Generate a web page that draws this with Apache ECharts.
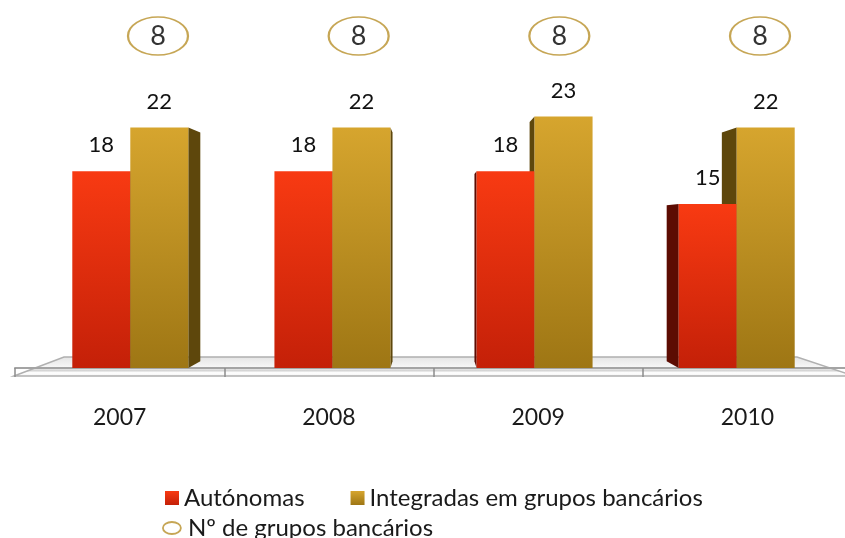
<!DOCTYPE html>
<html>
<head>
<meta charset="utf-8">
<script src="https://cdn.jsdelivr.net/npm/echarts@6/dist/echarts.min.js"></script>
<style>
  html, body { margin: 0; padding: 0; background: #fff; }
  #chart { width: 845px; height: 538px; }
</style>
</head>
<body>
<div id="chart"></div>
<script>
// dados do gráfico
var years = ['2007', '2008', '2009', '2010'];
var autonomas = [18, 18, 18, 15];
var integradas = [22, 22, 23, 22];
var grupos = [8, 8, 8, 8];

var FONT = 'Lato';
var BAR_W = 58;       // largura da face frontal
var FRONT = 0.966;    // recuo das faces frontais em direção ao centro
var DEPTH = 0.951;    // profundidade das barras (perspectiva)
var EYE_Y = 230;      // linha do horizonte
var ELLIPSE = 'path://M0,20a30,20 0 1,0 60,0a30,20 0 1,0 -60,0z';

var redFront = new echarts.graphic.LinearGradient(0, 0, 0, 1, [
    { offset: 0, color: '#f83a12' },
    { offset: 1, color: '#c42008' }
]);
var goldFront = new echarts.graphic.LinearGradient(0, 0, 0, 1, [
    { offset: 0, color: '#d6a52e' },
    { offset: 1, color: '#9e7614' }
]);
var redSide = '#5c0c02';
var goldSide = '#5e470c';

// barra 3D: face lateral + face frontal + rótulo
function makeRender(side, front, sideColor) {
    return function (params, api) {
        var idx = api.value(0);
        var val = api.value(1);
        var first = api.coord([0, 0]);
        var last = api.coord([years.length - 1, 0]);
        var vpx = (first[0] + last[0]) / 2;
        var base = api.coord([idx, 0]);
        var top = api.coord([idx, val]);
        var c = vpx + (base[0] - vpx) * FRONT;
        var x0 = side === 'left' ? c - BAR_W : c;
        var x1 = x0 + BAR_W;
        var yT = top[1], yB = base[1];
        var xs = x1 < vpx ? x1 : x0;
        function back(x, y) {
            return [vpx + (x - vpx) * DEPTH, EYE_Y + (y - EYE_Y) * DEPTH];
        }
        return {
            type: 'group',
            children: [{
                type: 'polygon',
                z2: 0,
                shape: { points: [[xs, yT], back(xs, yT), back(xs, yB), [xs, yB]] },
                style: { fill: sideColor }
            }, {
                type: 'rect',
                z2: 1,
                shape: { x: x0, y: yT, width: BAR_W, height: yB - yT },
                style: { fill: front }
            }, {
                type: 'text',
                z2: 2,
                style: {
                    text: String(val),
                    x: (x0 + x1) / 2,
                    y: yT - 26,
                    align: 'center',
                    verticalAlign: 'middle',
                    fontSize: 22,
                    fontFamily: FONT,
                    fill: '#111'
                }
            }]
        };
    };
}

var chart = echarts.init(document.getElementById('chart'));
var option = {
    animation: false,
    backgroundColor: '#fff',
    grid: [
        { left: 15, width: 837, top: 40, bottom: 170, outerBoundsMode: 'none' },
        { left: 158, right: 85, top: 16, height: 40, outerBoundsMode: 'none' }
    ],
    xAxis: [{
        type: 'category',
        gridIndex: 0,
        data: years,
        offset: 8,
        axisLine: { show: true, lineStyle: { color: '#a4a4a4', width: 2 } },
        axisTick: { show: true, length: 9, lineStyle: { color: '#8c8c8c', width: 1.5 } },
        axisLabel: { margin: 30, fontSize: 23, fontFamily: FONT, color: '#1a1a1a' }
    }, {
        type: 'category',
        gridIndex: 1,
        data: years,
        boundaryGap: false,
        show: false
    }],
    yAxis: [{
        type: 'value',
        gridIndex: 0,
        min: 0,
        max: 30,
        show: false,
        splitLine: { show: false }
    }, {
        type: 'value',
        gridIndex: 1,
        min: 0,
        max: 16,
        show: false,
        splitLine: { show: false }
    }],
    legend: [{
        left: 160,
        top: 481,
        itemWidth: 14,
        itemHeight: 14,
        itemGap: 46,
        textStyle: { fontSize: 24, fontFamily: FONT, color: '#1a1a1a' },
        data: [
            { name: 'Autónomas', icon: 'rect', itemStyle: { color: redFront } },
            { name: 'Integradas em grupos bancários', icon: 'rect', itemStyle: { color: goldFront } }
        ]
    }, {
        left: 157,
        top: 511,
        itemWidth: 22,
        itemHeight: 12,
        textStyle: { fontSize: 24, fontFamily: FONT, color: '#1a1a1a' },
        data: [{
            name: 'Nº de grupos bancários',
            icon: ELLIPSE,
            itemStyle: { color: '#fff', borderColor: '#b8902a', borderWidth: 1.8 }
        }]
    }],
    graphic: [{
        // piso 3D
        type: 'polygon',
        z: 0,
        shape: { points: [[14, 376], [64, 357], [797, 357], [854, 376]] },
        style: {
            fill: new echarts.graphic.LinearGradient(0, 0, 0, 1, [
                { offset: 0, color: '#e4e4e4' },
                { offset: 0.55, color: '#f7f7f7' },
                { offset: 0.7, color: '#d4d4d4' },
                { offset: 0.8, color: '#ffffff' },
                { offset: 1, color: '#f0f0f0' }
            ]),
            stroke: '#b0b0b0',
            lineWidth: 1.5
        }
    }],
    series: [{
        name: 'Autónomas',
        type: 'custom',
        xAxisIndex: 0,
        yAxisIndex: 0,
        itemStyle: { color: redFront },
        renderItem: makeRender('left', redFront, redSide),
        data: years.map(function (y, i) { return [i, autonomas[i]]; })
    }, {
        name: 'Integradas em grupos bancários',
        type: 'custom',
        xAxisIndex: 0,
        yAxisIndex: 0,
        itemStyle: { color: goldFront },
        renderItem: makeRender('right', goldFront, goldSide),
        data: years.map(function (y, i) { return [i, integradas[i]]; })
    }, {
        name: 'Nº de grupos bancários',
        type: 'scatter',
        xAxisIndex: 1,
        yAxisIndex: 1,
        symbol: ELLIPSE,
        symbolSize: [60, 38],
        itemStyle: { color: '#fff', borderColor: '#b8902a', borderWidth: 1.8 },
        label: {
            show: true,
            position: 'inside',
            fontSize: 27,
            fontFamily: FONT,
            color: '#000'
        },
        data: grupos
    }]
};
chart.setOption(option);
</script>
</body>
</html>
